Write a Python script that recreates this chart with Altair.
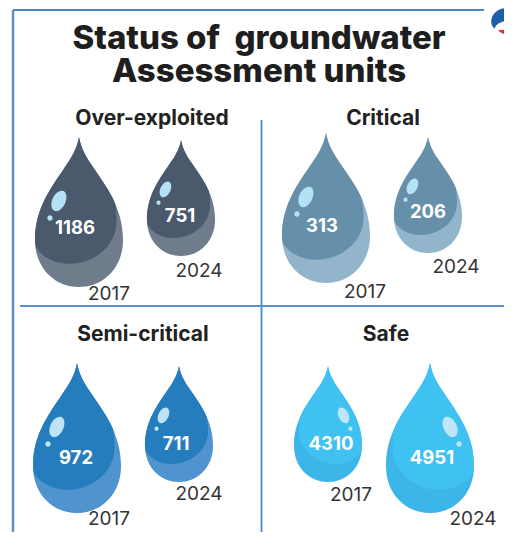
import math
import altair as alt
import pandas as pd

# ---- chart values ----
title_lines = ["Status of\u00a0 groundwater", "Assessment units"]
categories = ["Over-exploited", "Critical", "Semi-critical", "Safe"]
years = ["2017", "2024"]
values_2017 = [1186, 313, 972, 4310]
values_2024 = [751, 206, 711, 4951]

# ---- layout (page pixels) ----
W, H = 496, 524
header_x = [152, 383, 143, 386]
header_y = [119, 119, 335, 335]
drop_x_2017 = [79, 326, 77, 328]
drop_x_2024 = [181, 428, 179, 430]
drop_tip_2017 = [137, 133, 363, 366]
drop_tip_2024 = [140, 137, 366, 363]
drop_h_2017 = [150, 150, 150, 116]
drop_h_2024 = [116, 116, 116, 150]
label_x_2017 = [75, 322, 76, 331]
label_y_2017 = [228, 226, 458, 444]
label_x_2024 = [180, 428, 176, 432]
label_y_2024 = [216, 212, 444, 458]
year_x_2017 = [109, 365, 109, 351]
year_y_2017 = [294, 292, 519, 495]
year_x_2024 = [199, 456, 199, 473]
year_y_2024 = [271, 267, 494, 519]
dark = ["#4A5A6C", "#6690AA", "#267DBD", "#3FC1F1"]
light = ["#6E7C8C", "#92B5CB", "#4F94CE", "#3CB6E8"]
gloss = ["#B4E2F5", "#B4E2F5", "#BCE4F6", "#BFE6F7"]


def ellipse(cx, cy, a, b, deg):
    """Closed path of a tilted ellipse, written as four Bezier segments."""
    k = 0.5523
    t = math.radians(deg)
    pts = [(0, -b), (k * a, -b), (a, -k * b), (a, 0), (a, k * b), (k * a, b), (0, b),
           (-k * a, b), (-a, k * b), (-a, 0), (-a, -k * b), (-k * a, -b), (0, -b)]
    rot = [(cx + px * math.cos(t) - py * math.sin(t), cy + px * math.sin(t) + py * math.cos(t)) for px, py in pts]
    s = f"M{rot[0][0]:.4f},{rot[0][1]:.4f}"
    for j in range(1, 13, 3):
        s += " C" + " ".join(f"{p[0]:.4f},{p[1]:.4f}" for p in rot[j:j + 3])
    return s + " Z"


# ---- shapes ----
OUTER = ("M0,-1 C0.03,-0.84 0.1,-0.72 0.2,-0.58 C0.36,-0.34 0.587,-0.05 0.587,0.37 "
         "C0.587,0.75 0.32,1 0,1 C-0.32,1 -0.587,0.75 -0.587,0.37 "
         "C-0.587,-0.05 -0.36,-0.34 -0.2,-0.58 C-0.1,-0.72 -0.03,-0.84 0,-1 Z")
INNER_L = ("M0,-1 C0.03,-0.84 0.1,-0.72 0.2,-0.58 C0.3,-0.43 0.42,-0.27 0.48,-0.12 "
           "C0.5,-0.02 0.5,0.06 0.5,0.13 C0.5,0.45 0.2,0.69 -0.12,0.69 "
           "C-0.33,0.69 -0.5,0.6 -0.575,0.46 C-0.585,0.43 -0.587,0.4 -0.587,0.37 "
           "C-0.587,-0.05 -0.36,-0.34 -0.2,-0.58 C-0.1,-0.72 -0.03,-0.84 0,-1 Z")
INNER_R = ("M0,-1 C-0.03,-0.84 -0.1,-0.72 -0.2,-0.58 C-0.3,-0.43 -0.42,-0.27 -0.48,-0.12 "
           "C-0.5,-0.02 -0.5,0.06 -0.5,0.13 C-0.5,0.45 -0.2,0.69 0.12,0.69 "
           "C0.33,0.69 0.5,0.6 0.575,0.46 C0.585,0.43 0.587,0.4 0.587,0.37 "
           "C0.587,-0.05 0.36,-0.34 0.2,-0.58 C0.1,-0.72 0.03,-0.84 0,-1 Z")
GLOSS_L = ellipse(-0.268, -0.148, 0.088, 0.145, 25) + " " + ellipse(-0.387, 0.08, 0.036, 0.036, 0)
GLOSS_R = ellipse(0.268, -0.148, 0.088, 0.145, -25) + " " + ellipse(0.387, 0.08, 0.036, 0.036, 0)
LOGO_BLUE = ("M-0.98,0.12 C-1.02,-0.55 -0.45,-1 0.2,-1 C0.55,-1 0.85,-0.8 1,-0.45 "
             "C0.75,-0.1 0.3,-0.02 -0.1,0.05 C-0.4,0.12 -0.65,0.3 -0.72,0.6 C-0.88,0.45 -0.97,0.3 -0.98,0.12 Z")
LOGO_RED = ("M-0.45,0.68 C-0.1,0.75 0.5,0.6 1,0.3 C0.95,0.65 0.6,1 0.1,1 C-0.15,1 -0.35,0.85 -0.45,0.68 Z")

# ---- tables ----
rows = []
for i, c in enumerate(categories):
    for y, xs, tips, hs in [(years[0], drop_x_2017, drop_tip_2017, drop_h_2017),
                            (years[1], drop_x_2024, drop_tip_2024, drop_h_2024)]:
        cy = tips[i] + hs[i] / 2
        safe = c == "Safe"
        rows.append(dict(x=xs[i], y=cy, s=hs[i] ** 2, path=OUTER, fill=light[i], z=0))
        rows.append(dict(x=xs[i], y=cy, s=hs[i] ** 2, path=INNER_R if safe else INNER_L, fill=dark[i], z=1))
        rows.append(dict(x=xs[i], y=cy, s=hs[i] ** 2, path=GLOSS_R if safe else GLOSS_L, fill=gloss[i], z=2))
rows.append(dict(x=504, y=21, s=26 ** 2, path=LOGO_BLUE, fill="#1F5FA8", z=3))
rows.append(dict(x=504, y=21, s=26 ** 2, path=LOGO_RED, fill="#D9362F", z=3))
drops = pd.DataFrame(rows)

labels = pd.DataFrame(
    [dict(x=label_x_2017[i], y=label_y_2017[i], t=str(values_2017[i])) for i in range(4)]
    + [dict(x=label_x_2024[i], y=label_y_2024[i], t=str(values_2024[i])) for i in range(4)]
)
year_labels = pd.DataFrame(
    [dict(x=year_x_2017[i], y=year_y_2017[i], t=years[0]) for i in range(4)]
    + [dict(x=year_x_2024[i], y=year_y_2024[i], t=years[1]) for i in range(4)]
)
headers = pd.DataFrame(dict(x=header_x, y=header_y, t=categories))
titles = pd.DataFrame(dict(x=[259, 259], y=[38.5, 72], t=title_lines))
lines = pd.DataFrame(dict(
    x=[13, 13, 261.5, 20],
    x2=[13, 484, 261.5, 504],
    y=[10, 10, 120, 306],
    y2=[532, 10, 532, 306],
    w=[2.5, 2, 1.8, 2],
    c=["#5B8FC9", "#4F86C6", "#4F86C6", "#5B8FC9"],
))

X = alt.X("x:Q", axis=None, scale=alt.Scale(domain=[8, 504], range=[0, W], padding=0, nice=False, zero=False))
Y = alt.Y("y:Q", axis=None, scale=alt.Scale(domain=[8, 532], range=[0, H], padding=0, nice=False, zero=False))

rule_layer = alt.Chart(lines).mark_rule().encode(
    x=X, x2="x2:Q", y=Y, y2="y2:Q",
    color=alt.Color("c:N", scale=None),
    strokeWidth=alt.StrokeWidth("w:Q", scale=None),
)
drop_layer = alt.Chart(drops).mark_point(filled=True, opacity=1, strokeWidth=0).encode(
    x=X, y=Y,
    size=alt.Size("s:Q", scale=None),
    shape=alt.Shape("path:N", scale=None),
    fill=alt.Fill("fill:N", scale=None),
    order=alt.Order("z:Q"),
)


def text_layer(df, size, weight, color, font="Inter"):
    return alt.Chart(df).mark_text(
        font=font, fontSize=size, fontWeight=weight, color=color, baseline="middle", align="center"
    ).encode(x=X, y=Y, text="t:N")


chart = alt.layer(
    rule_layer,
    drop_layer,
    text_layer(titles, 33, 800, "#1E1E1E"),
    text_layer(headers, 21, 700, "#222222"),
    text_layer(labels, 18.5, 700, "#FFFFFF"),
    text_layer(year_labels, 19, 400, "#333333"),
).properties(
    width=W, height=H, padding=0, background="#FFFFFF",
    autosize=alt.AutoSizeParams(type="none"),
).configure_view(stroke=None)

chart.save("out.html", embed_options={"renderer": "svg", "actions": False})
